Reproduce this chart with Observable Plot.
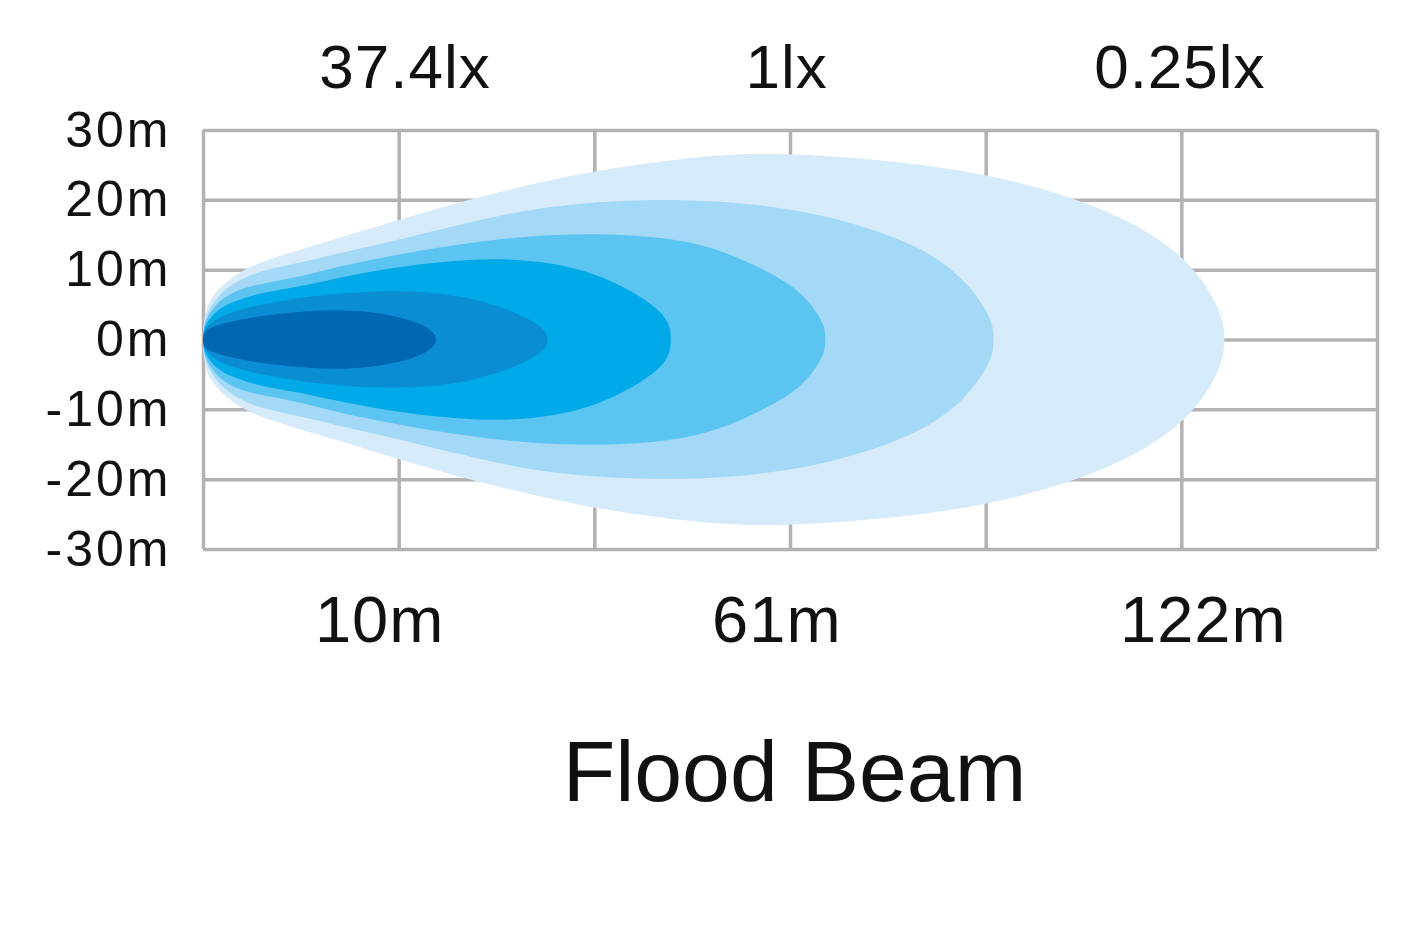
<!DOCTYPE html>
<html>
<head>
<meta charset="utf-8">
<script src="https://cdn.jsdelivr.net/npm/d3@7"></script>
<script src="https://cdn.jsdelivr.net/npm/@observablehq/plot@0.6"></script>
<style>
html, body { margin: 0; padding: 0; background: #fff; overflow: hidden; }
#wrap { position: relative; width: 1417px; height: 945px; }
#title { position: absolute; left: 0; top: 728px; width: 1417px; padding-left: 172px; box-sizing: border-box;
  text-align: center; font-family: "Liberation Sans", Arial, sans-serif; font-size: 86px; line-height: 86px; color: #111; }
g[aria-label="y-axis tick label"] text { letter-spacing: 3px; }
g[aria-label="x-axis tick label"] text { letter-spacing: 1px; }
</style>
</head>
<body>
<div id="wrap">
  <div id="chart"></div>
  <div id="title">Flood Beam</div>
</div>
<script>
// grid (schematic distance columns) and lateral spread ticks (m)
const gridCols = [0, 1, 2, 3, 4, 5, 6];
const yTicks = [-30, -20, -10, 0, 10, 20, 30];

// labels
const luxLabels = ["37.4lx", "1lx", "0.25lx"];
const luxAt = [1.03, 2.98, 4.99];
const distLabels = ["10m", "61m", "122m"];
const distAt = [0.9, 2.93, 5.11];

// beam zones, outermost first
const zoneNames = ["zone1", "zone2", "zone3", "zone4", "zone5", "zone6"];
const zoneColors = ["#d5ebfa", "#a3d9f6", "#5bc4f0", "#00a9e7", "#0b8dd4", "#0068b3"];

// outline of each zone: distance (grid columns) and half-width (m)
const zone1X = [0, 0.003, 0.02, 0.08, 0.18, 0.3, 0.55, 0.94, 1.33, 1.92, 2.5, 2.9, 3.6, 4.15, 4.69, 5.02, 5.17, 5.22, 5.22];
const zone1H = [0, 2.5, 5, 7.4, 9.6, 11.2, 13.3, 16.6, 19.9, 23.9, 26.2, 26.9, 25.5, 23, 18, 12, 6, 2, 0];
const zone2X = [0, 0.003, 0.02, 0.08, 0.18, 0.3, 0.5, 0.67, 0.9, 1.42, 1.8, 2.45, 3.09, 3.56, 3.77, 3.9, 4.0, 4.04, 4.04];
const zone2H = [0, 2, 3.8, 6.5, 8.5, 9.9, 11, 12.2, 13.6, 17.2, 19.4, 20.4, 18.7, 14.6, 11.4, 8.2, 4.5, 1.8, 0];
const zone3X = [0, 0.003, 0.02, 0.08, 0.18, 0.3, 0.5, 0.67, 0.9, 1.42, 1.95, 2.4, 2.66, 2.98, 3.1, 3.18, 3.18];
const zone3H = [0, 1.7, 3.2, 5.6, 7.2, 8, 9, 10.3, 11.7, 14.3, 15.4, 14.6, 12.8, 8.5, 5.5, 2, 0];
const zone4X = [0, 0.003, 0.02, 0.08, 0.18, 0.3, 0.5, 0.65, 0.96, 1.25, 1.5, 1.81, 2.05, 2.25, 2.36, 2.39, 2.39];
const zone4H = [0, 1.3, 2.5, 4.5, 5.7, 6.7, 7.6, 8.6, 10.3, 11.2, 11.7, 11, 9, 6, 3.5, 1.5, 0];
const zone5X = [0, 0.003, 0.02, 0.08, 0.18, 0.3, 0.5, 0.7, 1.0, 1.3, 1.5, 1.66, 1.74, 1.76, 1.76];
const zone5H = [0, 1, 1.9, 3.2, 4.3, 5, 6, 6.6, 7.1, 6.4, 4.9, 3.1, 1.6, 0.6, 0];
const zone6X = [0, 0.003, 0.02, 0.08, 0.18, 0.3, 0.5, 0.67, 0.85, 1.0, 1.12, 1.17, 1.19, 1.19];
const zone6H = [0, 0.9, 1.5, 2.1, 2.8, 3.4, 4, 4.3, 4.0, 3.3, 2.2, 1.2, 0.5, 0];

const zoneX = [zone1X, zone2X, zone3X, zone4X, zone5X, zone6X];
const zoneH = [zone1H, zone2H, zone3H, zone4H, zone5H, zone6H];
const rows = zoneNames.flatMap((z, k) => zoneX[k].map((x, i) => ({zone: z, x, h: zoneH[k][i]})));

const luxMap = new Map(luxAt.map((d, i) => [d, luxLabels[i]]));
const distMap = new Map(distAt.map((d, i) => [d, distLabels[i]]));

const gridStyle = {stroke: "#b2b2b2", strokeOpacity: 1, strokeWidth: 3.5};

const chart = Plot.plot({
  width: 1417,
  height: 680,
  marginLeft: 203,
  marginRight: 40,
  marginTop: 130,
  marginBottom: 131,
  x: {domain: [0, 6], label: null},
  y: {domain: [-30, 30], label: null},
  color: {type: "ordinal", domain: zoneNames, range: zoneColors},
  style: {fontFamily: '"Liberation Sans", Arial, sans-serif', color: "#111", background: "#fff", overflow: "visible"},
  marks: [
    Plot.gridX(gridCols, gridStyle),
    Plot.gridY(yTicks, gridStyle),
    Plot.areaY(rows, {x: "x", y1: d => -d.h, y2: "h", z: "zone", fill: "zone", curve: "basis"}),
    Plot.axisY(yTicks, {tickSize: 0, tickPadding: 32, tickFormat: d => d + "m", fontSize: 50, fill: "#111"}),
    Plot.axisX(distAt, {anchor: "bottom", tickSize: 0, tickPadding: 46, tickFormat: d => distMap.get(d), fontSize: 65, fill: "#111"}),
    Plot.axisX(luxAt, {anchor: "top", tickSize: 0, tickPadding: 43, tickFormat: d => luxMap.get(d), fontSize: 62, fill: "#111"})
  ]
});
document.getElementById("chart").appendChild(chart);
</script>
</body>
</html>
